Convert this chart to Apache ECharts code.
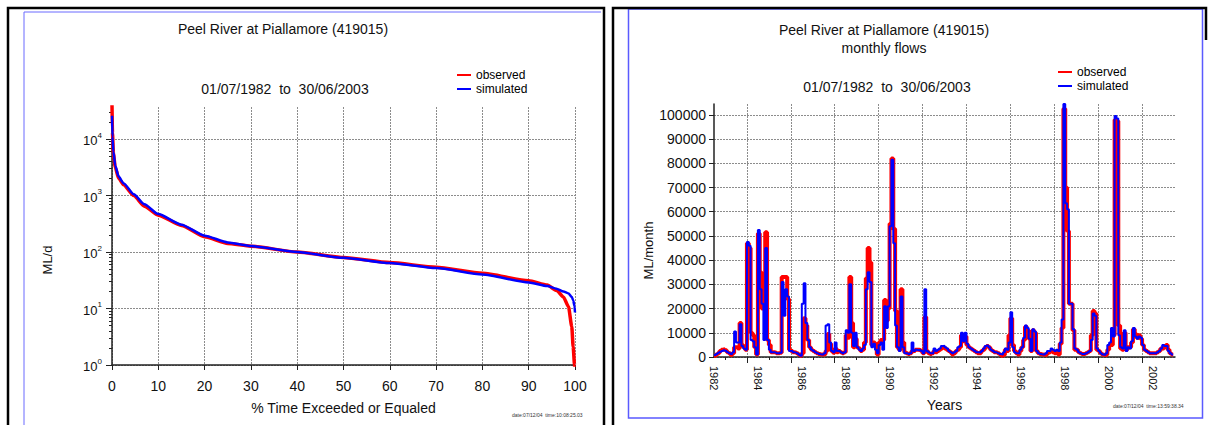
<!DOCTYPE html>
<html>
<head>
<meta charset="utf-8">
<title>Peel River at Piallamore (419015)</title>
<script src="https://cdn.jsdelivr.net/npm/echarts@6/dist/echarts.min.js"></script>
<style>
  html, body { margin: 0; padding: 0; background: #fff; }
  #chart { width: 1214px; height: 425px; }
</style>
</head>
<body>
<div id="chart"></div>
<script>
// left panel: flow duration curve (% time exceeded -> ML/d)
const fdcPercent   = [0, 0.1, 0.3, 0.7, 1.4, 2.5, 4.7, 7, 10, 15, 20, 25, 30, 40, 50, 60, 70, 80, 90, 94, 96, 97.5, 98.6, 99.3, 99.6, 99.9, 100];
const fdcObserved  = [40000, 13000, 5600, 3200, 2050, 1550, 1000, 650, 450, 295, 187, 142, 127, 100, 80, 65, 54, 42, 31, 26, 21, 16, 10.7, 4.8, 2.1, 1.0, 0.6];
const fdcSimulated = [26000, 11000, 6000, 3400, 2200, 1650, 1050, 700, 470, 305, 195, 148, 128, 100, 79, 64, 52, 40, 29, 25, 22.5, 20, 18.5, 16, 14, 11, 8.5];

// right panel: monthly flows (ML/month), one row per water year, Jul 1982 - Jun 2003
const firstMonth = 1982.5;
const monthlyObserved = [
  500, 1000, 1500, 2500, 3000, 3200, 2800, 2000, 1500, 800, 1500, 4000,
  4000, 3500, 14000, 5000, 4000, 3000, 47000, 45000, 10000, 9000, 4000, 1000,
  51000, 35000, 20000, 20000, 51500, 7000, 5000, 2000, 2000, 1800, 1500, 1500,
  1800, 33000, 33000, 33000, 24000, 3000, 2500, 2000, 1800, 1500, 1000, 500,
  1500, 16000, 13000, 7000, 4000, 3000, 2500, 2000, 1500, 1200, 1000, 1000,
  1200, 2500, 9500, 5500, 2500, 1800, 3500, 2000, 2500, 2000, 1500, 2000,
  9000, 8000, 33000, 14000, 4000, 7500, 4000, 3500, 2500, 3000, 6000, 32500,
  45000, 39000, 5000, 6000, 5000, 1000, 6000, 7000, 7000, 23500, 15000, 20000,
  55000, 82000, 53000, 19000, 4000, 3000, 28000, 6000, 2000, 1500, 1200, 1500,
  2500, 2500, 3000, 3000, 2800, 2500, 1500, 16500, 2500, 1500, 1200, 1500,
  2500, 2000, 2500, 3000, 3500, 4000, 3500, 3000, 2500, 2000, 1000, 1500,
  2500, 3000, 4000, 9000, 6500, 8500, 5000, 4000, 3500, 3000, 2500, 2000,
  1500, 1500, 2500, 3000, 4000, 4500, 4000, 3000, 2500, 2000, 1800, 1500,
  1000, 500, 800, 3000, 2500, 9000, 16000, 5000, 2500, 1500, 1000, 2500,
  4000, 7000, 12500, 11000, 7500, 2500, 11000, 10000, 2500, 1500, 1200, 1000,
  900, 800, 1500, 2000, 2500, 2000, 1500, 2500, 1000, 5500, 12000, 102500,
  70000, 52000, 22000, 22000, 11000, 3000, 3000, 2000, 1500, 1200, 1200, 1500,
  2000, 2500, 9000, 19000, 18000, 3000, 2500, 1500, 1000, 800, 1000, 3000,
  5000, 5000, 9000, 98000, 97500, 13000, 3500, 3000, 10000, 3000, 4000, 4000,
  6000, 11500, 9500, 8000, 9000, 7500, 5000, 3000, 2500, 2000, 1500, 1500,
  1500, 1500, 2000, 2500, 3500, 3500, 4500, 5000, 3000, 1500, 1000, 800
];
const monthlySimulated = [
  800, 1200, 1800, 2200, 2500, 2800, 2500, 2000, 1500, 1200, 2000, 10500,
  6000, 6000, 13500, 4500, 3500, 3000, 47500, 46000, 7000, 6500, 4000, 1000,
  52500, 28000, 22000, 7000, 45000, 7000, 3000, 2000, 2000, 1800, 1500, 1500,
  1800, 31000, 17000, 28000, 25000, 2500, 2500, 2000, 1800, 1500, 1000, 500,
  22000, 30500, 14000, 7000, 4000, 3000, 2500, 2000, 1500, 1200, 1000, 1000,
  1500, 13000, 13500, 6000, 2500, 2000, 6000, 2500, 2500, 2000, 1500, 2000,
  11000, 10000, 30000, 10000, 4500, 10000, 4000, 3000, 2500, 3500, 5000, 28000,
  35000, 31000, 4000, 5500, 3000, 1500, 5000, 6000, 3000, 21000, 12000, 21000,
  54000, 81500, 47000, 13000, 4000, 2500, 25000, 4000, 1500, 1500, 1200, 1500,
  6000, 2500, 3000, 2800, 3000, 2500, 1500, 28000, 2500, 2000, 1500, 1500,
  3500, 2500, 3000, 3500, 4500, 4700, 4000, 3500, 2500, 2000, 1500, 2000,
  2500, 4000, 4500, 10000, 6500, 10000, 5500, 4000, 3500, 3000, 2500, 2000,
  2000, 1800, 2500, 3500, 4500, 4800, 4000, 3000, 2500, 2000, 1800, 1500,
  1200, 1000, 2000, 3500, 3000, 6000, 18500, 4000, 2000, 1500, 1500, 3000,
  4000, 8000, 13000, 12000, 7500, 2500, 11500, 10500, 2500, 1500, 1200, 1000,
  1000, 1500, 2500, 2500, 3500, 3000, 2500, 3000, 2500, 6000, 15500, 104500,
  63500, 61000, 22000, 22000, 11500, 3500, 3000, 2000, 1500, 1200, 1200, 1500,
  2000, 2500, 7000, 18000, 17000, 3500, 2500, 1500, 1000, 800, 1500, 5000,
  6000, 12000, 8500, 99500, 98500, 9000, 4000, 3500, 11000, 2500, 4000, 3500,
  6500, 12000, 8500, 7500, 8500, 8000, 5000, 3000, 2500, 2000, 1500, 1500,
  1500, 1500, 2000, 2500, 3500, 5000, 4500, 4500, 2500, 1500, 1000, 800
];

// tick positions
const evenYears = [1984, 1986, 1988, 1990, 1992, 1994, 1996, 1998, 2000, 2002];
const oddYears = [1983, 1985, 1987, 1989, 1991, 1993, 1995, 1997, 1999, 2001, 2003];
const yearLabels = [1982, 1984, 1986, 1988, 1990, 1992, 1994, 1996, 1998, 2000, 2002];
const logMinorTicks = [];
[1, 10, 100, 1000, 10000].forEach(d => {
  for (let k = 2; k <= 9; k++) if (k * d <= 37000) logMinorTicks.push(k * d);
});

const FONT = "'Liberation Sans Narrow', 'Liberation Sans', Arial, sans-serif";
const gridLine = { show: true, lineStyle: { color: '#8c8c8c', type: [2, 1], width: 1 } };
const axisDark = { show: true, lineStyle: { color: '#222', width: 1.5 } };

const chart = echarts.init(document.getElementById('chart'), null, { renderer: 'svg' });

const option = {
  backgroundColor: '#fff',
  animation: false,
  textStyle: { fontFamily: FONT },
  title: [
    { text: 'Peel River at Piallamore (419015)', left: 283, top: 22, textAlign: 'center', padding: 0,
      textStyle: { fontFamily: FONT, fontSize: 14, fontWeight: 'normal', color: '#111' } },
    { text: '01/07/1982  to  30/06/2003', left: 285, top: 82, textAlign: 'center', padding: 0,
      textStyle: { fontFamily: FONT, fontSize: 14, fontWeight: 'normal', color: '#111' } },
    { text: 'Peel River at Piallamore (419015)\nmonthly flows', left: 884, top: 21, textAlign: 'center', padding: 0,
      textStyle: { fontFamily: FONT, fontSize: 14, fontWeight: 'normal', color: '#111', lineHeight: 18 } },
    { text: '01/07/1982  to  30/06/2003', left: 887, top: 80, textAlign: 'center', padding: 0,
      textStyle: { fontFamily: FONT, fontSize: 14, fontWeight: 'normal', color: '#111' } },
    { text: 'date:07/12/04  time:10:08:25.03', left: 512, top: 412, padding: 0,
      textStyle: { fontFamily: FONT, fontSize: 5, fontWeight: 'normal', color: '#333' } },
    { text: 'date:07/12/04  time:13:59:38.34', left: 1113, top: 403, padding: 0,
      textStyle: { fontFamily: FONT, fontSize: 5, fontWeight: 'normal', color: '#333' } }
  ],
  legend: [
    { left: 457, top: 69, orient: 'vertical', padding: 0, itemWidth: 14, itemHeight: 2, itemGap: 2,
      icon: 'rect', selectedMode: false, data: ['observed', 'simulated'],
      textStyle: { fontFamily: FONT, fontSize: 12, color: '#000' } },
    { left: 1058, top: 66, orient: 'vertical', padding: 0, itemWidth: 14, itemHeight: 2, itemGap: 2,
      icon: 'rect', selectedMode: false, data: ['observed', 'simulated'],
      textStyle: { fontFamily: FONT, fontSize: 12, color: '#000' } }
  ],
  grid: [
    { left: 112, top: 107, width: 463, height: 258 },
    { left: 714, top: 104, width: 461, height: 253 }
  ],
  xAxis: [
    { type: 'value', gridIndex: 0, min: 0, max: 100, interval: 10,
      name: '% Time Exceeded or Equaled', nameLocation: 'middle', nameGap: 36,
      nameTextStyle: { fontFamily: FONT, fontSize: 14, color: '#111' },
      axisLine: axisDark, axisTick: { length: 5, lineStyle: { color: '#222' } },
      axisLabel: { margin: 14, fontFamily: FONT, fontSize: 14, color: '#111' },
      splitLine: gridLine },
    { type: 'value', gridIndex: 1, min: firstMonth, max: 2003.5,
      name: 'Years', nameLocation: 'middle', nameGap: 36,
      nameTextStyle: { fontFamily: FONT, fontSize: 14, color: '#111' },
      axisLine: axisDark,
      axisTick: { length: 6, customValues: evenYears, lineStyle: { color: '#222' } },
      axisLabel: { customValues: yearLabels.map(y => y + 0.5), rotate: -90, margin: 9,
        fontFamily: FONT, fontSize: 11, color: '#111', formatter: v => String(Math.floor(v)) },
      splitLine: gridLine },
    { type: 'value', gridIndex: 1, min: firstMonth, max: 2003.5, position: 'bottom',
      axisLine: { show: false },
      axisTick: { length: 3, customValues: oddYears, lineStyle: { color: '#222' } },
      axisLabel: { show: false }, splitLine: { show: false } }
  ],
  yAxis: [
    { type: 'log', gridIndex: 0, min: 1, max: 37000, logBase: 10, position: 'left',
      name: 'ML/d', nameLocation: 'middle', nameGap: 58,
      nameTextStyle: { fontFamily: FONT, fontSize: 13, color: '#111', padding: [0, 48, 0, 0] },
      axisLine: axisDark, axisTick: { length: 6, lineStyle: { color: '#222' } },
      axisLabel: {
        margin: 10, showMaxLabel: false,
        formatter: v => {
          const e = Math.log10(v);
          if (Math.abs(e - Math.round(e)) > 1e-6) return '';
          return '{b|10}{s|' + Math.round(e) + '}';
        },
        rich: {
          b: { fontFamily: FONT, fontSize: 13, color: '#111', verticalAlign: 'bottom', lineHeight: 16 },
          s: { fontFamily: FONT, fontSize: 8, color: '#111', verticalAlign: 'top', lineHeight: 8 }
        }
      },
      splitLine: Object.assign({ showMaxLine: false }, gridLine) },
    { type: 'log', gridIndex: 0, min: 1, max: 37000, logBase: 10, position: 'left',
      axisLine: { show: false },
      axisTick: { length: 3, customValues: logMinorTicks, lineStyle: { color: '#222' } },
      axisLabel: { show: false }, splitLine: { show: false } },
    { type: 'value', gridIndex: 1, min: 0, max: 104500, interval: 10000, position: 'left',
      name: 'ML/month', nameLocation: 'middle', nameGap: 57,
      nameTextStyle: { fontFamily: FONT, fontSize: 13, color: '#111', padding: [0, 40, 0, 0] },
      axisLine: axisDark, axisTick: { length: 5, lineStyle: { color: '#222' } },
      axisLabel: { margin: 8, showMaxLabel: false, fontFamily: FONT, fontSize: 14, color: '#111',
        formatter: v => String(v) },
      splitLine: Object.assign({ showMaxLine: false }, gridLine) }
  ],
  series: [
    { name: 'observed', type: 'line', xAxisIndex: 0, yAxisIndex: 0, showSymbol: false,
      smooth: 0.2, smoothMonotone: 'x',
      data: fdcPercent.map((p, i) => [p, fdcObserved[i]]),
      itemStyle: { color: '#ff0000' }, lineStyle: { color: '#ff0000', width: 3.5 }, z: 2 },
    { name: 'simulated', type: 'line', xAxisIndex: 0, yAxisIndex: 0, showSymbol: false,
      smooth: 0.2, smoothMonotone: 'x',
      data: fdcPercent.map((p, i) => [p, fdcSimulated[i]]),
      itemStyle: { color: '#0000ff' }, lineStyle: { color: '#0000ff', width: 2.5 }, z: 3 },
    { name: 'observed', type: 'line', xAxisIndex: 1, yAxisIndex: 2, showSymbol: false, step: 'end',
      data: monthlyObserved.map((v, i) => [firstMonth + i / 12, v]),
      itemStyle: { color: '#ff0000' }, lineStyle: { color: '#ff0000', width: 4 }, z: 2 },
    { name: 'simulated', type: 'line', xAxisIndex: 1, yAxisIndex: 2, showSymbol: false, step: 'end',
      data: monthlySimulated.map((v, i) => [firstMonth + i / 12, v]),
      itemStyle: { color: '#0000ff' }, lineStyle: { color: '#0000ff', width: 2 }, z: 3 }
  ],
  graphic: [
    // panel frames
    { type: 'rect', silent: true, shape: { x: 8, y: 8, width: 596, height: 440 },
      style: { fill: 'none', stroke: '#000', lineWidth: 2.5 } },
    { type: 'polyline', silent: true, shape: { points: [[24, 440], [24, 12], [601, 12]] },
      style: { fill: 'none', stroke: '#6a6aff', lineWidth: 1 } },
    { type: 'rect', silent: true, shape: { x: 628.5, y: 9, width: 574, height: 409 },
      style: { fill: 'none', stroke: '#5a5aff', lineWidth: 1.5 } },
    { type: 'polyline', silent: true, shape: { points: [[613, 440], [613, 8], [1206, 8], [1206, 40]] },
      style: { fill: 'none', stroke: '#000', lineWidth: 2.5 } }
  ]
};

chart.setOption(option);
</script>
</body>
</html>
